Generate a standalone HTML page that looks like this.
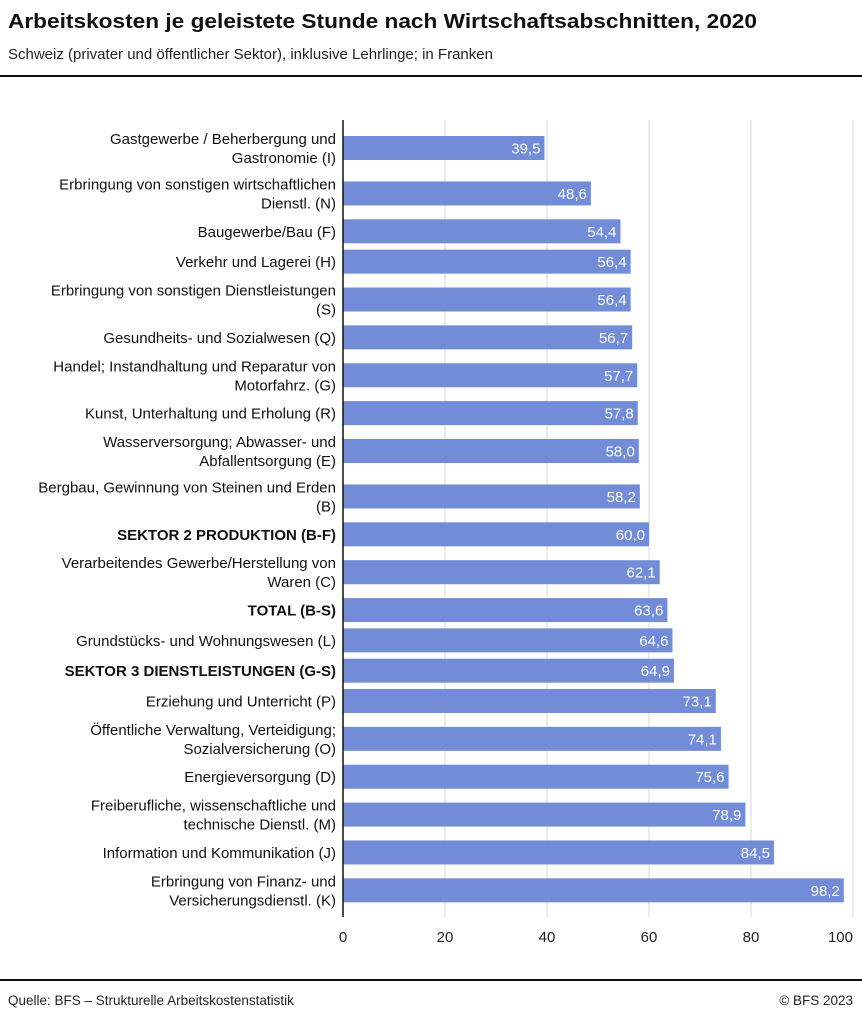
<!DOCTYPE html>
<html><head><meta charset="utf-8"><style>
body{margin:0;background:#fff}
svg{display:block;font-family:"Liberation Sans",sans-serif}
</style></head><body>
<svg id="chart" width="862" height="1018" viewBox="0 0 862 1018">
<text x="8" y="28" font-size="20" font-weight="bold" fill="#111" textLength="749" lengthAdjust="spacingAndGlyphs">Arbeitskosten je geleistete Stunde nach Wirtschaftsabschnitten, 2020</text>
<text x="8" y="59" font-size="15" fill="#222">Schweiz (privater und öffentlicher Sektor), inklusive Lehrlinge; in Franken</text>
<rect x="0" y="75" width="862" height="2" fill="#111"/>
<g id="grid"></g><g id="bars"></g><g id="labels"></g><g id="ticks"></g>
<rect x="0" y="979" width="862" height="2" fill="#111"/>
<text x="8" y="1005" font-size="13.5" fill="#222">Quelle: BFS – Strukturelle Arbeitskostenstatistik</text>
<text x="853" y="1005" font-size="13.5" fill="#222" text-anchor="end">© BFS 2023</text>
</svg>
<script>
const categories=[
["Gastgewerbe / Beherbergung und","Gastronomie (I)"],
["Erbringung von sonstigen wirtschaftlichen","Dienstl. (N)"],
["Baugewerbe/Bau (F)"],
["Verkehr und Lagerei (H)"],
["Erbringung von sonstigen Dienstleistungen","(S)"],
["Gesundheits- und Sozialwesen (Q)"],
["Handel; Instandhaltung und Reparatur von","Motorfahrz. (G)"],
["Kunst, Unterhaltung und Erholung (R)"],
["Wasserversorgung; Abwasser- und","Abfallentsorgung (E)"],
["Bergbau, Gewinnung von Steinen und Erden","(B)"],
["SEKTOR 2 PRODUKTION (B-F)"],
["Verarbeitendes Gewerbe/Herstellung von","Waren (C)"],
["TOTAL (B-S)"],
["Grundstücks- und Wohnungswesen (L)"],
["SEKTOR 3 DIENSTLEISTUNGEN (G-S)"],
["Erziehung und Unterricht (P)"],
["Öffentliche Verwaltung, Verteidigung;","Sozialversicherung (O)"],
["Energieversorgung (D)"],
["Freiberufliche, wissenschaftliche und","technische Dienstl. (M)"],
["Information und Kommunikation (J)"],
["Erbringung von Finanz- und","Versicherungsdienstl. (K)"]];
const values=[39.5,48.6,54.4,56.4,56.4,56.7,57.7,57.8,58.0,58.2,60.0,62.1,63.6,64.6,64.9,73.1,74.1,75.6,78.9,84.5,98.2];
const boldRows=[10,12,14];
const ticks=[0,20,40,60,80,100];
const NS="http://www.w3.org/2000/svg";
const x0=343,x1=853,xmax=100;
const X=v=>x0+(x1-x0)*v/xmax;
function mk(t,a,p){const e=document.createElementNS(NS,t);for(const k in a)e.setAttribute(k,a[k]);p.appendChild(e);return e;}
const grid=document.getElementById('grid'),bars=document.getElementById('bars'),labels=document.getElementById('labels'),tk=document.getElementById('ticks');
const top0=120,bottom=917;
ticks.forEach(t=>{
 if(t>0){const g=mk('line',{x1:X(t),x2:X(t),y1:top0,y2:bottom,stroke:'#dadada','stroke-width':1},grid);
 
 }
 const tx=mk('text',{x:X(t),y:942,'font-size':15,fill:'#222','text-anchor':t===100?'end':'middle'},tk);
 tx.textContent=t;
 
 
});
const ax=mk('line',{x1:x0,x2:x0,y1:top0,y2:bottom,stroke:'#111','stroke-width':1.5},tk);


const unit=15.15;
let y=148-unit*1.5;
categories.forEach((c,i)=>{
 const h=unit*(c.length+1), cy=y+h/2;
 const r=mk('rect',{x:x0,y:cy-12,width:X(values[i])-x0,height:24,fill:'#728cd8'},bars);
 
 
 const v=mk('text',{x:X(values[i])-4,y:cy+5.5,'font-size':15,fill:'#fff','text-anchor':'end'},bars);
 v.textContent=values[i].toFixed(1).replace('.',',');
 
 
 const lt=mk('text',{x:336,'font-size':15,fill:'#111','text-anchor':'end','font-weight':boldRows.includes(i)?'bold':'normal'},labels);
 
 
 const startY=cy+5.5-(c.length-1)*9.5;
 c.forEach((line,j)=>{const s=mk('tspan',{x:336,y:startY+j*19},lt);s.textContent=line;});
 y+=h;
});
</script>
</body></html>
